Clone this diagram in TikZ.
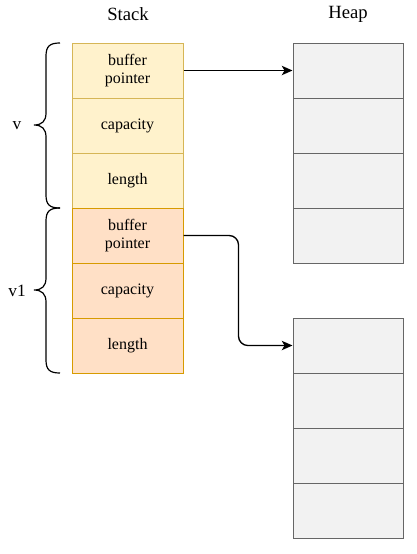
\documentclass[tikz,border=0pt]{standalone}
\usepackage{fontspec}
\setmainfont{Liberation Serif}
\usetikzlibrary{arrows.meta}
\definecolor{yfill}{HTML}{FFF2CC}
\definecolor{ydraw}{HTML}{D6B656}
\definecolor{ofill}{HTML}{FFE0C6}
\definecolor{odraw}{HTML}{D79B00}
\definecolor{hfill}{HTML}{F2F2F2}
\definecolor{hdraw}{HTML}{666666}
\tikzset{
  cell/.style={rectangle, minimum width=83.25pt, minimum height=41.25pt, inner sep=0pt, align=center, font=\fontsize{12}{13}\selectfont, line width=0.75pt},
  ycell/.style={cell, fill=yfill, draw=ydraw},
  ocell/.style={cell, fill=ofill, draw=odraw},
  hcell/.style={cell, fill=hfill, draw=hdraw, minimum width=82.5pt},
  title/.style={font=\fontsize{14}{16}\selectfont},
  lbl/.style={font=\fontsize{13}{15}\selectfont},
  brace/.style={draw=black, line width=0.9pt},
  conn/.style={draw=black, line width=1pt, -{Stealth[length=8pt,width=7pt,inset=2pt]}}
}
\begin{document}
\begin{tikzpicture}[x=0.75pt,y=-0.75pt]
\useasboundingbox (0,0) rectangle (417,554);
\node[title] (stack) at (128,14) {Stack};
\node[title] (heap) at (348,14) {Heap};
% stack cells
\node[ycell] (v1c) at (127.5,70.5) {buffer\\pointer};
\node[ycell] (v2c) at (127.5,125.5) {capacity};
\node[ycell] (v3c) at (127.5,180.5) {length};
\node[ocell] (w1c) at (127.5,235.5) {buffer\\pointer};
\node[ocell] (w2c) at (127.5,290.5) {capacity};
\node[ocell] (w3c) at (127.5,345.5) {length};
% heap cells
\node[hcell] (h11) at (348,70.5) {};
\node[hcell] (h12) at (348,125.5) {};
\node[hcell] (h13) at (348,180.5) {};
\node[hcell] (h14) at (348,235.5) {};
\node[hcell] (h21) at (348,345.5) {};
\node[hcell] (h22) at (348,400.5) {};
\node[hcell] (h23) at (348,455.5) {};
\node[hcell] (h24) at (348,510.5) {};
% braces
\path[brace] (60,43) .. controls (50,43) and (46,46) .. (46,56) -- (46,113) .. controls (46,121) and (42,125) .. (34,125) .. controls (42,125) and (46,129) .. (46,137) -- (46,195) .. controls (46,205) and (50,208) .. (60,208);
\path[brace] (60,208) .. controls (50,208) and (46,211) .. (46,221) -- (46,278) .. controls (46,286) and (42,290) .. (34,290) .. controls (42,290) and (46,294) .. (46,302) -- (46,360) .. controls (46,370) and (50,373) .. (60,373);
\node[lbl] (vl) at (17,126) {v};
\node[lbl] (v1l) at (17,291) {v1};
% connectors
\path[conn] (v1c.east) -- (h11.west);
\path[conn, rounded corners=7pt] (w1c.east) -- ++(55,0) |- (h21.west);
\end{tikzpicture}
\end{document}
